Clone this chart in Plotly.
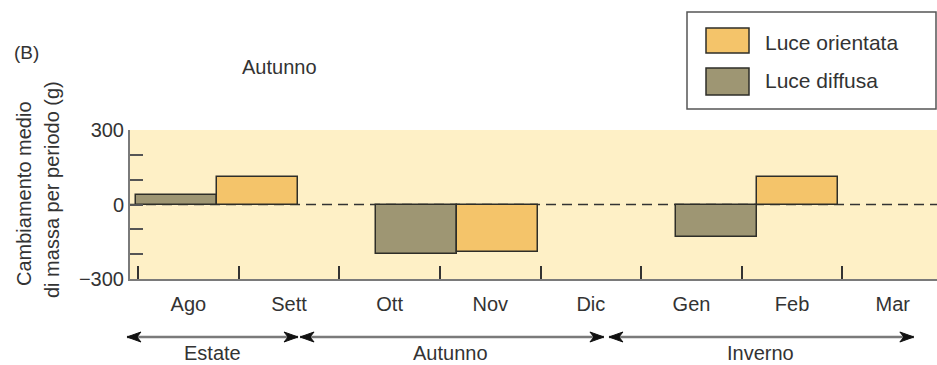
import plotly.graph_objects as go

# ---------------- data ----------------
months = ["Ago", "Sett", "Ott", "Nov", "Dic", "Gen", "Feb", "Mar"]
# bar centres expressed in month units (0 = start of Agosto)
diffusa_x = [0.38, 2.77, 5.75]
diffusa_y = [40, -200, -130]
orientata_x = [1.19, 3.57, 6.555]
orientata_y = [110, -190, 110]
seasons = ["Estate", "Autunno", "Inverno"]
season_bounds = [-0.11, 1.59, 1.61, 4.63, 4.68, 7.71]  # start/end pairs (month units)
y_ticks = [-300, -200, -100, 0, 100, 200, 300]
y_ticktext = ["\u2212300", "", "", "0", "", "", "300"]

# ---------------- style ----------------
W, H = 937, 365
L, R, T, B = 130, 0, 130, 86
XR = [-0.08, 7.94]
FONT = "Liberation Sans, Arial, sans-serif"
TXT = "#333333"
C_DIFF = "#9e9673"
C_ORI = "#f4c46a"
EDGE = "#2e2e28"
BG = "#fef0c6"
BAR_W = 0.805

pw, ph = W - L - R, H - T - B


def px2paper_x(px):
    return (px - L) / pw


def px2paper_y(py):
    return (H - B - py) / ph


def data2paper_x(u):
    return (u - XR[0]) / (XR[1] - XR[0])


fig = go.Figure()
fig.add_trace(go.Bar(x=diffusa_x, y=diffusa_y, width=BAR_W, name="Luce diffusa",
                     marker=dict(color=C_DIFF, line=dict(color=EDGE, width=1.5))))
fig.add_trace(go.Bar(x=orientata_x, y=orientata_y, width=BAR_W, name="Luce orientata",
                     marker=dict(color=C_ORI, line=dict(color=EDGE, width=1.5))))

shapes = []
# dashed zero line
shapes.append(dict(type="line", xref="paper", yref="y", x0=0, x1=1, y0=0, y1=0,
                   line=dict(color="#333333", width=1.5, dash="10px,6px"), layer="below"))

# season arrows
ay = px2paper_y(337)
for i, s in enumerate(seasons):
    u0, u1 = season_bounds[2 * i], season_bounds[2 * i + 1]
    x0, x1 = data2paper_x(u0), data2paper_x(u1)
    shapes.append(dict(type="line", xref="paper", yref="paper", x0=x0, x1=x1, y0=ay, y1=ay,
                       line=dict(color="#7a7a7a", width=2.5)))
    for xe, d in ((x0, 1), (x1, -1)):
        tip = L + xe * pw
        py = 337
        pts = [(tip, py), (tip + d * 14, py - 5), (tip + d * 10, py), (tip + d * 14, py + 5)]
        path = "M " + " L ".join(f"{px2paper_x(a):.5f},{px2paper_y(b):.5f}" for a, b in pts) + " Z"
        shapes.append(dict(type="path", xref="paper", yref="paper", path=path,
                           fillcolor="#111111", line=dict(color="#111111", width=1)))


def rect_px(x0, y0, x1, y1, **kw):
    return dict(type="rect", xref="paper", yref="paper",
                x0=px2paper_x(x0), x1=px2paper_x(x1), y0=px2paper_y(y1), y1=px2paper_y(y0), **kw)


shapes.append(rect_px(687, 12, 936, 109, line=dict(color="#555555", width=1.5), fillcolor="white"))
shapes.append(rect_px(706, 28, 749, 53, line=dict(color=EDGE, width=1.5), fillcolor=C_ORI))
shapes.append(rect_px(706, 68, 749, 95, line=dict(color=EDGE, width=1.5), fillcolor=C_DIFF))

annotations = []


def ann_px(text, x, y, size=20, xanchor="center", angle=0):
    annotations.append(dict(text=text, xref="paper", yref="paper", x=px2paper_x(x), y=px2paper_y(y),
                            xanchor=xanchor, yanchor="middle", showarrow=False, textangle=angle,
                            font=dict(family=FONT, size=size, color=TXT)))


ann_px(fig.data[1].name, 763, 42, size=21, xanchor="left")
ann_px(fig.data[0].name, 763, 80, size=21, xanchor="left")
ann_px("(B)", 12, 52, size=19, xanchor="left")
ann_px("Autunno", 279, 67, size=20)
ann_px("Cambiamento medio", 24, 194, size=20, angle=-90)
ann_px("di massa per periodo (g)", 52, 190, size=20, angle=-90)

season_centres = [212, 450, 760]
for s, cx in zip(seasons, season_centres):
    ann_px(s, cx, 353, size=20)

fig.update_layout(
    width=W, height=H,
    margin=dict(l=L, r=R, t=T, b=B, pad=0),
    paper_bgcolor="white", plot_bgcolor=BG,
    barmode="overlay", showlegend=False, bargap=0,
    font=dict(family=FONT, size=20, color=TXT),
    shapes=shapes, annotations=annotations,
    xaxis=dict(range=XR, tickvals=[i + 0.5 for i in range(len(months))], ticktext=months,
               ticks="", showgrid=False, zeroline=False, showline=True, linecolor="#7a7a7a",
               linewidth=2, tickfont=dict(family=FONT, size=20, color=TXT), ticklabelstandoff=6,
               minor=dict(tickvals=list(range(len(months))), ticks="inside", ticklen=13,
                          tickcolor="#333333", tickwidth=1.5, showgrid=False)),
    yaxis=dict(range=[-300, 300], tickvals=y_ticks, ticktext=y_ticktext, ticks="inside",
               ticklen=13, tickcolor="#555555", tickwidth=1.5, showgrid=False, zeroline=False,
               showline=True, linecolor="#7a7a7a", linewidth=2,
               tickfont=dict(family=FONT, size=20, color=TXT)),
)

fig.write_html("out.html", config={"displayModeBar": False},
               post_script="document.body.style.margin='0';document.body.style.padding='0';")
